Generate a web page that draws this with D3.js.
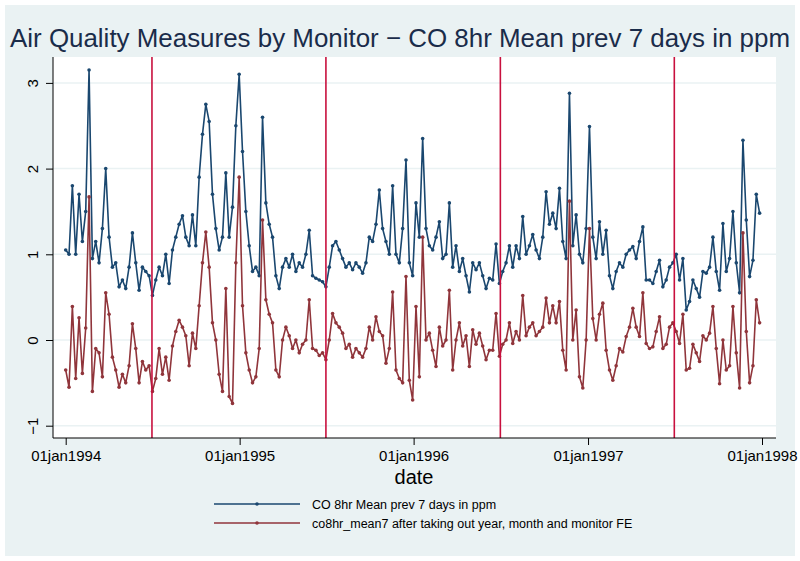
<!DOCTYPE html>
<html>
<head>
<meta charset="utf-8">
<script src="https://cdn.jsdelivr.net/npm/d3@7"></script>
<style>
body { margin: 0; background: #ffffff; }
svg { display: block; font-family: "Liberation Sans", Arial, sans-serif; }
</style>
</head>
<body>
<svg id="chart" width="800" height="561"></svg>
<script>
//## weekly readings, first one on 01jan1994
var startDate = new Date(Date.UTC(1994, 0, 1));
var stepDays = 7;

//## CO 8hr Mean prev 7 days in ppm
var coMean = [
    1.05, 1.0, 1.8, 1.0, 1.7, 1.15, 1.5, 3.15, 0.95, 1.15,
    0.9, 1.3, 2.0, 1.2, 0.85, 0.9, 0.62, 0.7, 0.6, 0.85,
    1.25, 0.9, 0.58, 0.85, 0.8, 0.75, 0.52, 0.7, 0.85, 0.75,
    1.0, 0.66, 1.05, 1.2, 1.35, 1.45, 1.2, 1.1, 1.46, 1.1,
    1.9, 2.4, 2.75, 2.55, 1.7, 1.3, 1.05, 1.2, 1.95, 1.2,
    1.55, 2.5, 3.1, 2.2, 1.5, 1.1, 0.8, 0.85, 0.75, 2.6,
    1.6, 1.35, 1.2, 0.75, 0.6, 0.85, 0.95, 0.85, 1.0, 0.8,
    0.9, 0.85, 1.0, 1.28, 0.75, 0.72, 0.7, 0.68, 0.62, 0.85,
    1.1, 1.15, 1.05, 0.95, 0.85, 0.9, 0.82, 0.9, 0.85, 0.78,
    0.9, 1.2, 1.15, 1.35, 1.75, 1.3, 1.15, 1.0, 1.8, 1.0,
    0.9, 1.3, 2.1, 0.9, 0.75, 1.6, 1.2, 2.35, 1.3, 1.1,
    1.05, 1.2, 1.38, 0.95, 1.0, 1.6, 0.85, 1.1, 0.8, 0.95,
    0.75, 0.56, 0.9, 0.82, 0.9, 0.75, 0.6, 0.72, 0.7, 1.12,
    0.66, 0.8, 0.9, 1.1, 0.85, 1.1, 0.95, 1.44, 1.0, 1.1,
    1.23, 1.05, 0.95, 1.2, 1.73, 1.35, 1.48, 1.3, 1.77, 1.15,
    0.95, 2.88, 1.1, 1.46, 1.0, 0.9, 1.3, 2.49, 1.2, 0.95,
    1.38, 1.0, 1.28, 0.75, 0.6, 0.8, 0.9, 0.85, 1.0, 1.05,
    1.09, 0.95, 1.15, 1.32, 0.7, 0.7, 0.66, 0.8, 0.93, 0.62,
    0.7, 0.85, 0.9, 1.0, 0.7, 0.95, 0.35, 0.45, 0.7, 0.6,
    0.5, 0.8, 0.78, 0.85, 1.2, 0.8, 0.58, 1.36, 0.8, 0.95,
    1.5, 0.9, 0.55, 2.33, 1.4, 0.74, 0.93, 1.7, 1.48
];

//## co8hr_mean7 after taking out year, month and monitor FE
var coResid = [
    -0.35, -0.55, 0.39, -0.45, 0.26, -0.39, 0.14, 1.67, -0.6, -0.1,
    -0.15, -0.43, 0.55, 0.3, -0.2, -0.35, -0.55, -0.4, -0.5, -0.3,
    0.19, -0.1, -0.5, -0.25, -0.35, -0.3, -0.6, -0.45, -0.1, -0.4,
    -0.2, -0.47, -0.07, 0.1, 0.23, 0.15, 0.05, -0.3, 0.08, -0.1,
    0.4, 0.9, 1.26, 0.85, 0.2, 0.0, -0.4, -0.6, 0.6, -0.66,
    -0.74, 0.9, 1.9, 0.4, -0.15, -0.35, -0.5, -0.43, -0.1, 1.4,
    0.47, 0.3, 0.2, -0.35, -0.43, 0.0, 0.15, 0.05, -0.1, 0.0,
    -0.15, -0.05, 0.0, 0.47, -0.1, -0.12, -0.18, -0.15, -0.23, 0.0,
    0.31, 0.2, 0.15, 0.08, -0.1, -0.05, -0.2, -0.1, -0.15, -0.2,
    -0.1, 0.15, 0.0, 0.27, 0.1, 0.05, -0.27, -0.1, 0.56, -0.35,
    -0.45, -0.5, 0.74, -0.47, -0.7, 0.39, -0.43, 1.2, 0.0, 0.08,
    -0.12, -0.31, 0.15, -0.07, 0.0, 0.58, -0.35, 0.0, 0.2, -0.07,
    0.05, -0.31, 0.12, -0.05, 0.08, -0.07, -0.23, -0.12, -0.12, 0.31,
    -0.19, -0.05, 0.0, 0.2, -0.04, 0.1, 0.0, 0.52, 0.05, 0.15,
    0.2, 0.05, 0.1, 0.15, 0.49, 0.2, 0.4, 0.2, 0.45, -0.12,
    -0.35, 1.62, 0.0, 0.35, -0.43, -0.56, 0.0, 1.3, 0.25, 0.0,
    0.3, 0.43, -0.12, -0.35, -0.47, -0.3, -0.1, -0.14, 0.04, 0.15,
    0.37, 0.15, 0.04, 0.55, -0.04, -0.1, -0.08, 0.1, 0.27, -0.1,
    -0.05, 0.15, 0.2, 0.1, -0.04, 0.3, -0.35, -0.33, -0.05, -0.15,
    -0.25, 0.05, 0.0, 0.08, 0.39, -0.1, -0.51, 0.0, -0.35, -0.3,
    0.39, -0.15, -0.56, 1.25, 0.1, -0.5, -0.3, 0.47, 0.2
];

var yTicks = [-1, 0, 1, 2, 3];
var xTicks = [new Date(Date.UTC(1994, 0, 1)), new Date(Date.UTC(1995, 0, 1)),
              new Date(Date.UTC(1996, 0, 1)), new Date(Date.UTC(1997, 0, 1)),
              new Date(Date.UTC(1998, 0, 1))];
//## mid-year reference lines
var refLines = [new Date(Date.UTC(1994, 6, 1)), new Date(Date.UTC(1995, 6, 1)),
                new Date(Date.UTC(1996, 6, 1)), new Date(Date.UTC(1997, 6, 1))];
var legendLabels = ["CO 8hr Mean prev 7 days in ppm",
                    "co8hr_mean7 after taking out year, month and monitor FE"];
var seriesColors = ["#1a476f", "#90353b"];

var dates = coMean.map(function(d, i) { return d3.utcDay.offset(startDate, i * stepDays); });

var svg = d3.select("#chart");

//## outer graph region
svg.append("rect")
    .attr("x", 5).attr("y", 5)
    .attr("width", 790).attr("height", 551)
    .attr("fill", "#eaf2f3");

//## plot region
var plotLeft = 53, plotRight = 776, plotTop = 57, plotBottom = 438;
svg.append("rect")
    .attr("x", plotLeft).attr("y", plotTop)
    .attr("width", plotRight - plotLeft).attr("height", plotBottom - plotTop)
    .attr("fill", "#ffffff");

var x = d3.scaleUtc()
    .domain([xTicks[0], xTicks[4]])
    .range([65.7, 762]);
var y = d3.scaleLinear()
    .domain([-1, 3])
    .range([425.7, 82.9]);

//## grid lines
svg.selectAll(".grid")
    .data(yTicks)
    .enter().append("line")
    .attr("class", "grid")
    .attr("x1", plotLeft).attr("x2", plotRight)
    .attr("y1", function(d) { return y(d); })
    .attr("y2", function(d) { return y(d); })
    .attr("stroke", "#eaf2f3")
    .attr("stroke-width", 1.5);

//## series
var line = d3.line()
    .x(function(d) { return x(d.date); })
    .y(function(d) { return y(d.value); });

var allSeries = [coMean, coResid];
for (j = 0; j < allSeries.length; j++) {
    var pts = allSeries[j].map(function(v, i) { return {date: dates[i], value: v}; });
    svg.append("path")
        .datum(pts)
        .attr("d", line)
        .attr("fill", "none")
        .attr("stroke", seriesColors[j])
        .attr("stroke-width", 1.6)
        .attr("stroke-linejoin", "round");
    svg.append("g")
        .selectAll("circle")
        .data(pts)
        .enter().append("circle")
        .attr("cx", function(d) { return x(d.date); })
        .attr("cy", function(d) { return y(d.value); })
        .attr("r", 1.8)
        .attr("fill", seriesColors[j]);
}

//## vertical reference lines on top
svg.selectAll(".refline")
    .data(refLines)
    .enter().append("line")
    .attr("class", "refline")
    .attr("x1", function(d) { return x(d); })
    .attr("x2", function(d) { return x(d); })
    .attr("y1", plotTop).attr("y2", plotBottom)
    .attr("stroke", "#c8103e")
    .attr("stroke-width", 1.6);

//## axes
var yAxis = svg.append("g")
    .attr("transform", "translate(" + plotLeft + ",0)")
    .call(d3.axisLeft(y).tickValues(yTicks).tickSize(7).tickSizeOuter(0)
        .tickFormat(function(d) { return d < 0 ? "\u2212" + Math.abs(d) : d; }));
yAxis.select(".domain").attr("d", "M0," + plotTop + "V" + plotBottom).attr("stroke", "#000");
yAxis.selectAll(".tick line").attr("stroke", "#000");
yAxis.selectAll(".tick text")
    .attr("x", 0).attr("dy", 0)
    .attr("transform", "translate(-15,0) rotate(-90)")
    .attr("text-anchor", "middle")
    .attr("font-size", 15)
    .attr("font-family", "Liberation Sans, Arial, sans-serif")
    .attr("fill", "#000");

var xAxis = svg.append("g")
    .attr("transform", "translate(0," + plotBottom + ")")
    .call(d3.axisBottom(x).tickValues(xTicks).tickSize(7).tickSizeOuter(0)
        .tickFormat(d3.utcFormat("%djan%Y")).tickPadding(5));
xAxis.select(".domain").attr("d", "M" + plotLeft + ",0H" + plotRight).attr("stroke", "#000");
xAxis.selectAll(".tick line").attr("stroke", "#000");
xAxis.selectAll(".tick text")
    .attr("font-size", 15)
    .attr("font-family", "Liberation Sans, Arial, sans-serif")
    .attr("fill", "#000");

svg.append("text")
    .attr("x", 414).attr("y", 484)
    .attr("text-anchor", "middle")
    .attr("font-size", 20)
    .attr("fill", "#000")
    .text("date");

//## title
svg.append("text")
    .attr("x", 400).attr("y", 47)
    .attr("text-anchor", "middle")
    .attr("font-size", 26)
    .attr("textLength", 780)
    .attr("lengthAdjust", "spacingAndGlyphs")
    .attr("fill", "#1a2c4a")
    .text("Air Quality Measures by Monitor \u2212 CO 8hr Mean prev 7 days in ppm");

//## legend
var leg = svg.selectAll(".legend")
    .data(legendLabels)
    .enter().append("g")
    .attr("class", "legend")
    .attr("transform", function(d, i) { return "translate(0," + (504 + i * 19) + ")"; });
leg.append("line")
    .attr("x1", 214).attr("x2", 300)
    .attr("stroke", function(d, i) { return seriesColors[i]; })
    .attr("stroke-width", 1.5);
leg.append("circle")
    .attr("cx", 257).attr("r", 1.8)
    .attr("fill", function(d, i) { return seriesColors[i]; });
leg.append("text")
    .attr("x", 312).attr("y", 4.5)
    .attr("font-size", 12.5)
    .attr("fill", "#000")
    .text(function(d) { return d; });
</script>
</body>
</html>
